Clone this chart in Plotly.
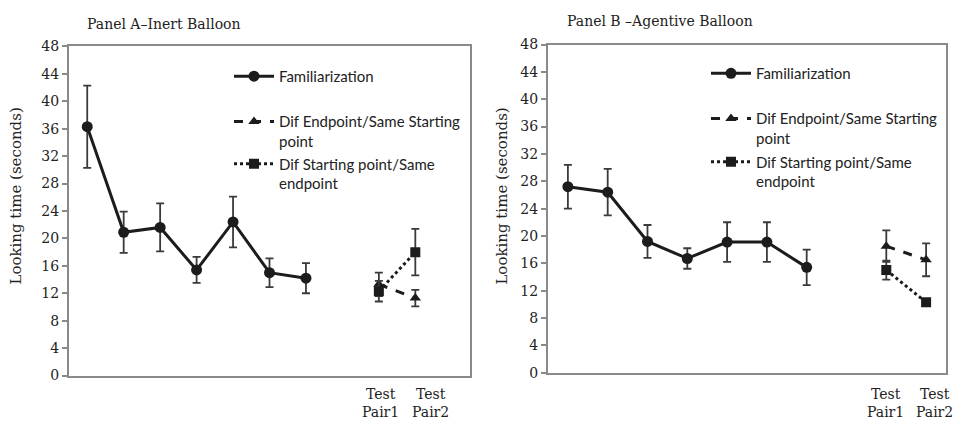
import plotly.graph_objects as go

# ---------------- data ----------------
fam_x = [1, 2, 3, 4, 5, 6, 7]
test_x = [9, 10]
tick_vals = [9, 10]
tick_text = ["Test<br>Pair1", "Test<br>Pair2"]
y_ticks = list(range(0, 49, 4))

# Panel A - Inert Balloon
a_fam = [36.3, 20.9, 21.6, 15.4, 22.4, 15.0, 14.2]
a_fam_err = [6.0, 3.0, 3.5, 1.9, 3.7, 2.1, 2.2]
a_endp = [13.3, 11.3]
a_endp_err = [1.7, 1.2]
a_start = [12.3, 18.0]
a_start_err = [1.5, 3.4]

# Panel B - Agentive Balloon
b_fam = [27.2, 26.4, 19.2, 16.7, 19.1, 19.1, 15.4]
b_fam_err = [3.2, 3.4, 2.4, 1.5, 2.9, 2.9, 2.6]
b_endp = [18.5, 16.5]
b_endp_err = [2.3, 2.4]
b_start = [15.0, 10.3]
b_start_err = [1.4, 0.5]

names = ["Familiarization",
         "Dif Endpoint/Same Starting<br>point",
         "Dif Starting point/Same<br>endpoint"]
y_title = "Looking time (seconds)"

INK = "#1c1c1c"
ERR = "#3a3a3a"
SERIF = "DejaVu Serif"
SANS = "Lato"

fig = go.Figure()


def add_panel(fam, fam_err, endp, endp_err, start, start_err, xa, ya, legs):
    err_style = dict(type="data", thickness=1.8, width=4, color=ERR)
    fig.add_trace(go.Scatter(
        x=fam_x, y=fam, mode="lines+markers", name=names[0],
        line=dict(color=INK, width=3),
        marker=dict(symbol="circle", size=11, color=INK),
        error_y=dict(array=fam_err, **err_style),
        xaxis=xa, yaxis=ya, legend=legs[0]))
    fig.add_trace(go.Scatter(
        x=test_x, y=endp, mode="lines+markers", name=names[1],
        line=dict(color=INK, width=3, dash="dash"),
        marker=dict(symbol="triangle-up", size=10, color=INK),
        error_y=dict(array=endp_err, **err_style),
        xaxis=xa, yaxis=ya, legend=legs[1]))
    fig.add_trace(go.Scatter(
        x=test_x, y=start, mode="lines+markers", name=names[2],
        line=dict(color=INK, width=3, dash="dot"),
        marker=dict(symbol="square", size=10, color=INK),
        error_y=dict(array=start_err, **err_style),
        xaxis=xa, yaxis=ya, legend=legs[2]))


add_panel(a_fam, a_fam_err, a_endp, a_endp_err, a_start, a_start_err,
          "x", "y", ["legend", "legend2", "legend3"])
add_panel(b_fam, b_fam_err, b_endp, b_endp_err, b_start, b_start_err,
          "x2", "y2", ["legend4", "legend5", "legend6"])

W, H = 956, 422


def px(x):
    return x / W


def py(y):
    return 1 - y / H


axis_common = dict(showgrid=False, zeroline=False, showline=True,
                   linecolor="#8a8a8a", linewidth=2, mirror=True)

xcommon = dict(axis_common, tickmode="array", tickvals=tick_vals, ticktext=tick_text,
               ticks="", showticklabels=False)
ycommon = dict(axis_common, range=[0, 48], tickmode="array", tickvals=y_ticks,
               ticks="outside", ticklen=5, tickcolor="#8a8a8a", tickwidth=1.5,
               tickfont=dict(family=SERIF, size=14, color="#222"))

fig.update_layout(
    xaxis=dict(xcommon, domain=[px(69), px(470)], range=[0.5, 11.5], anchor="y"),
    yaxis=dict(ycommon, domain=[py(382), py(40)], anchor="x"),
    xaxis2=dict(xcommon, domain=[px(548), px(946)], range=[0.5, 10.5], anchor="y2"),
    yaxis2=dict(ycommon, domain=[py(379), py(38)], anchor="x2"),
)

# category labels under the test pairs (label text from tick_text)
xlab_font = dict(family=SERIF, size=14, color="#222")
for xref, shifts, yc in (("x", [2, 15], 411), ("x2", [-1, 8], 411)):
    for val, txt, sh in zip(tick_vals, tick_text, shifts):
        fig.add_annotation(text=txt, x=val, xref=xref, y=py(yc), yref="paper",
                           xanchor="center", yanchor="middle", xshift=sh,
                           showarrow=False, font=xlab_font, align="center")

leg_font = dict(family=SANS, size=15, color="#222")


def leg(x, y):
    return dict(x=px(x), y=py(y), xanchor="left", yanchor="top", xref="paper", yref="paper",
                font=leg_font, bgcolor="rgba(0,0,0,0)", valign="top", borderwidth=0,
                itemwidth=40)


fig.update_layout(
    legend=leg(229, 54), legend2=leg(229, 101), legend3=leg(229, 145),
    legend4=leg(706, 51), legend5=leg(706, 98), legend6=leg(706, 143),
)

title_font = dict(family=SERIF, size=14, color="#222")
fig.add_annotation(text="Panel A\u2013Inert Balloon", x=px(85), y=py(17), xref="paper", yref="paper",
                   xanchor="left", yanchor="middle", showarrow=False, font=title_font)
fig.add_annotation(text="Panel B \u2013Agentive Balloon", x=px(565), y=py(14), xref="paper", yref="paper",
                   xanchor="left", yanchor="middle", showarrow=False, font=title_font)

ytitle_font = dict(family=SERIF, size=15, color="#222")
fig.add_annotation(text=y_title, x=px(16), y=py(196), xref="paper", yref="paper",
                   xanchor="center", yanchor="middle", textangle=-90, showarrow=False,
                   font=ytitle_font)
fig.add_annotation(text=y_title, x=px(502), y=py(195), xref="paper", yref="paper",
                   xanchor="center", yanchor="middle", textangle=-90, showarrow=False,
                   font=ytitle_font)

fig.update_layout(width=W, height=H, margin=dict(l=0, r=0, t=0, b=0),
                  plot_bgcolor="white", paper_bgcolor="white", showlegend=True)

fig.write_html("out.html")
